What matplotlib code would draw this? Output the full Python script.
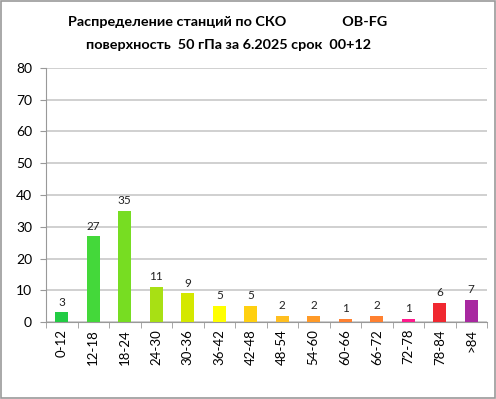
import matplotlib.pyplot as plt

# Data
categories = ['0-12', '12-18', '18-24', '24-30', '30-36', '36-42', '42-48',
              '48-54', '54-60', '60-66', '66-72', '72-78', '78-84', '>84']
counts = [3, 27, 35, 11, 9, 5, 5, 2, 2, 1, 2, 1, 6, 7]
colors = ['#22cc44', '#44d83a', '#77dd22', '#a8e014', '#d4e800', '#ffff00', '#ffd010',
          '#ffbf20', '#ff9a28', '#ff8030', '#ff8030', '#ff1a8c', '#f02830', '#a828a0']

plt.rcParams['font.family'] = ['Lato', 'DejaVu Sans']

fig = plt.figure(figsize=(4.96, 3.99), dpi=100)
ax = fig.add_axes([46 / 496, 1 - 322 / 399, 441 / 496, 254 / 399])

x = range(len(categories))
ax.bar(x, counts, width=0.4, color=colors, edgecolor='none', zorder=3)
for xi, v in zip(x, counts):
    ax.text(xi, v + 1.5, str(v), ha='center', va='bottom', fontsize=8.5, color='#222222')

ax.set_xlim(-0.5, len(categories) - 0.5)
ax.set_ylim(0, 80)
ax.set_yticks(range(0, 81, 10))
ax.set_xticks(list(x))
ax.set_xticklabels(categories, rotation=90, fontsize=9.5)
ax.tick_params(axis='y', labelsize=10, length=4, color='#999999', pad=6)
# minor ticks at category boundaries
ax.set_xticks([i - 0.5 for i in range(len(categories) + 1)], minor=True)
ax.tick_params(axis='x', which='major', length=0, pad=5)
ax.tick_params(axis='x', which='minor', length=4, color='#999999')
ax.grid(axis='y', color='#c8c8c8', linewidth=1.2, zorder=0)
for s in ['top', 'right']:
    ax.spines[s].set_visible(False)
ax.spines['left'].set_color('#999999')
ax.spines['bottom'].set_color('#999999')

fig.text(0.459, 1 - 22 / 399, 'Распределение станций по СКО                OB-FG',
         ha='center', va='center', fontsize=10.4, fontweight='bold')
fig.text(0.460, 1 - 45 / 399, 'поверхность  50 гПа за 6.2025 срок  00+12',
         ha='center', va='center', fontsize=10.4, fontweight='bold')

fig.patches.append(plt.Rectangle((0.002, 0.002), 0.996, 0.996, transform=fig.transFigure,
                                 fill=False, edgecolor='#999999', linewidth=1.2))

fig.savefig('out.png', dpi=100)
